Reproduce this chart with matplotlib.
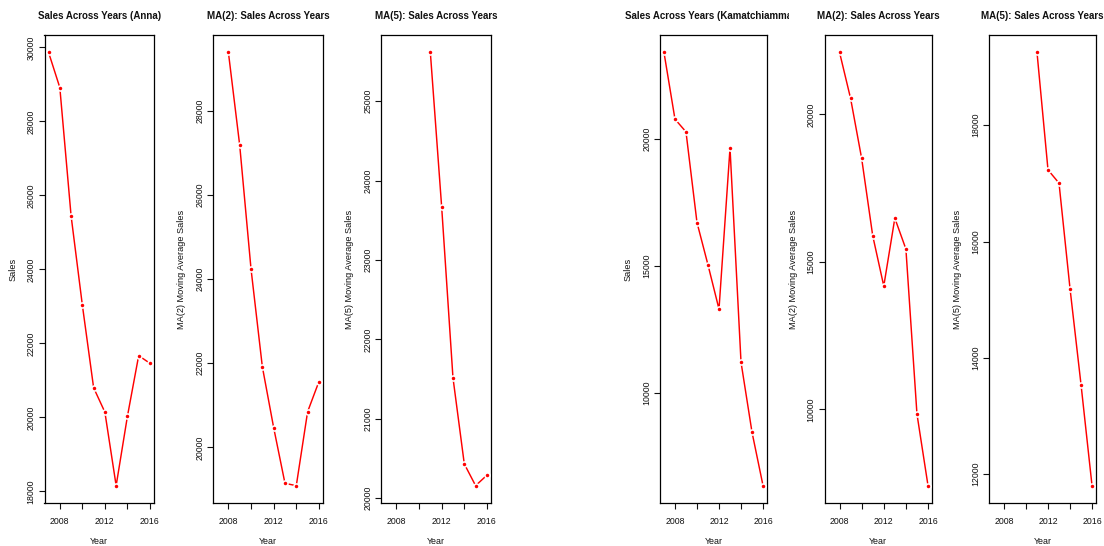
import numpy as np
import matplotlib
matplotlib.use("Agg")
import matplotlib.pyplot as plt
from matplotlib.transforms import Bbox

plt.rcParams['font.family'] = ['Liberation Sans', 'DejaVu Sans']

# ---------------- data ----------------
years = [2007, 2008, 2009, 2010, 2011, 2012, 2013, 2014, 2015, 2016]

anna_sales = [29868, 28916, 25448, 23035, 20801, 20141, 18153, 20028, 21668, 21461]
anna_ma2 = [np.nan, 29392, 27182, 24242, 21918, 20471, 19147, 19091, 20848, 21565]
anna_ma5 = [np.nan, np.nan, np.nan, np.nan, 25614, 23668, 21516, 20432, 20158, 20290]

kam_sales = [23420, 20790, 20290, 16720, 15050, 13310, 19650, 11220, 8460, 6360]
kam_ma2 = [np.nan, 22105, 20540, 18505, 15885, 14180, 16480, 15435, 9840, 7410]
kam_ma5 = [np.nan, np.nan, np.nan, np.nan, 19254, 17232, 17004, 15190, 13538, 11800]

titles = ["Sales Across Years (Anna)", "MA(2): Sales Across Years", "MA(5): Sales Across Years",
          "Sales Across Years (Kamatchiamman)", "MA(2): Sales Across Years", "MA(5): Sales Across Years"]
ylabels = ["Sales", "MA(2) Moving Average Sales", "MA(5) Moving Average Sales",
           "Sales", "MA(2) Moving Average Sales", "MA(5) Moving Average Sales"]
series = [anna_sales, anna_ma2, anna_ma5, kam_sales, kam_ma2, kam_ma5]

x_ticks = [2008, 2010, 2012, 2014, 2016]
x_ticklabels = ["2008", "", "2012", "", "2016"]
y_ticks = [
    [18000, 20000, 22000, 24000, 26000, 28000, 30000],
    [20000, 22000, 24000, 26000, 28000],
    [20000, 21000, 22000, 23000, 24000, 25000],
    [10000, 15000, 20000],
    [10000, 15000, 20000],
    [12000, 14000, 16000, 18000],
]

# ---------------- layout (pixels) ----------------
W, H = 1104, 546
lefts = [44.5, 213, 381, 660, 824.5, 989]
rights = [154, 323, 491, 767, 932, 1096]
top, bottom = 35, 503

fig = plt.figure(figsize=(W / 100, H / 100), dpi=100)
fig.patch.set_facecolor("white")

yrs = np.array(years, dtype=float)
xr = yrs.max() - yrs.min()
xlim = (yrs.min() - 0.04 * xr, yrs.max() + 0.04 * xr)

for i in range(6):
    l, r = lefts[i], rights[i]
    ax = fig.add_axes([l / W, (H - bottom) / H, (r - l) / W, (bottom - top) / H])
    v = np.array(series[i], dtype=float)
    ax.plot(yrs, v, color="red", lw=1.05, zorder=2, solid_capstyle="butt")
    ax.plot(yrs, v, "o", ms=4.8, color="white", mec="none", zorder=3)
    ax.plot(yrs, v, "o", ms=2.5, color="red", mec="none", zorder=4)

    fin = v[np.isfinite(v)]
    yr_ = fin.max() - fin.min()
    ax.set_ylim(fin.min() - 0.04 * yr_, fin.max() + 0.04 * yr_)
    ax.set_xlim(*xlim)

    ax.set_xticks(x_ticks)
    ax.set_xticklabels(x_ticklabels)
    ax.set_yticks(y_ticks[i])
    ax.set_yticklabels([str(t) for t in y_ticks[i]], rotation=90, va="center")
    ax.tick_params(axis="both", length=4, width=0.8, labelsize=6.3, colors="#111111")
    ax.tick_params(axis="x", pad=6.3)
    ax.tick_params(axis="y", pad=2.4)
    for sp in ax.spines.values():
        sp.set_linewidth(0.9)
        sp.set_color("black")

    cx = (l + r) / 2
    t = fig.text(cx / W, 1 - 16 / H, titles[i], ha="center", va="center",
                 fontsize=7, fontweight="bold", color="#111111")
    if i == 3:
        t.set_clip_box(Bbox([[0, 0], [789, H]]))
        t.set_clip_on(True)
    fig.text((l - 31.5) / W, 1 - ((top + bottom) / 2) / H, ylabels[i], rotation=90,
             ha="center", va="center", fontsize=6.6, color="#111111")
    fig.text(cx / W, 1 - 542 / H, "Year", ha="center", va="center",
             fontsize=6.4, color="#111111")

fig.savefig("out.png", dpi=100, facecolor="white")
